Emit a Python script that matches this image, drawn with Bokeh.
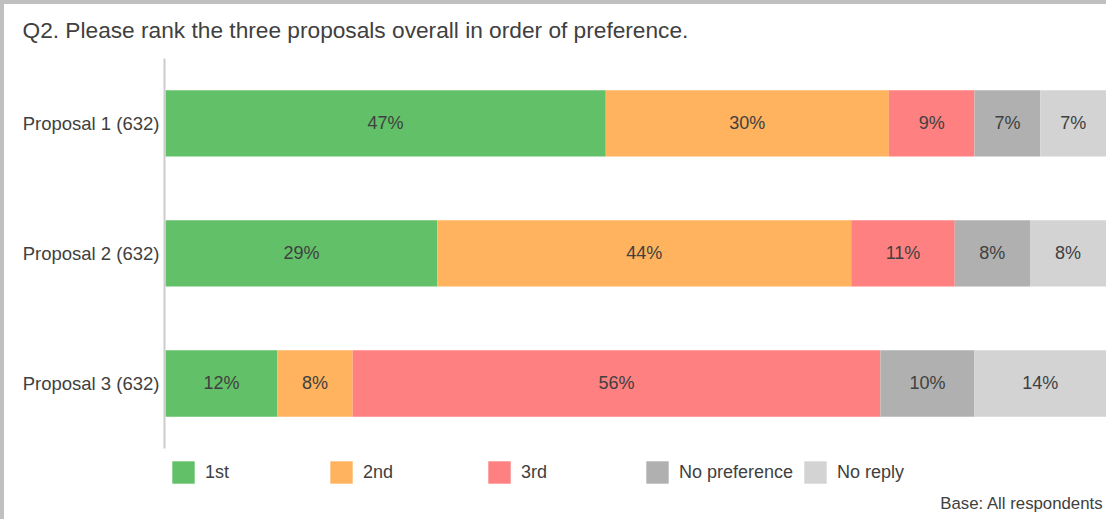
from bokeh.plotting import figure
from bokeh.models import ColumnDataSource, Range1d, Legend, LegendItem, Label
from bokeh.core.properties import value
from bokeh.embed import file_html
from bokeh.resources import INLINE

proposals = ["Proposal 1 (632)", "Proposal 2 (632)", "Proposal 3 (632)"]
series = ["1st", "2nd", "3rd", "No preference", "No reply"]
first = [46.8, 28.9, 11.9]
second = [30.1, 44.0, 8.0]
third = [9.1, 11.0, 56.1]
no_pref = [7.0, 8.0, 10.0]
no_reply = [7.0, 8.1, 14.0]
colors = ["#62c168", "#ffb35e", "#ff8080", "#b0b0b0", "#d3d3d3"]
title_text = "Q2. Please rank the three proposals overall in order of preference."
base_text = "Base: All respondents"

FONT = "Liberation Sans"
TXT = "#404040"

n = len(proposals)
# row position: first proposal on top
ypos = [n - 1 - i for i in range(n)]

data = {"y": ypos, "cat": proposals, "1st": first, "2nd": second, "3rd": third,
        "No preference": no_pref, "No reply": no_reply}
src = ColumnDataSource(data)

# whole canvas is the plot area; ranges chosen so the bars sit where the reference has them
p = figure(width=1106, height=519, output_backend="svg", toolbar_location=None,
           x_range=Range1d(-17.115, 100.46), y_range=Range1d(-1.077, 2.915),
           x_axis_location=None, y_axis_location=None,
           min_border_left=0, min_border_right=0, min_border_top=0, min_border_bottom=0)
p.styles = {"border-left": "4px solid #c0c0c0", "border-top": "4px solid #c0c0c0"}
p.outline_line_color = None
p.xgrid.visible = False
p.ygrid.visible = False
p.background_fill_color = "white"
p.border_fill_color = "white"

renderers = p.hbar_stack(series, y="y", height=0.51, source=src, color=colors, line_color=None)

# category axis: line + labels
p.segment(x0=[-0.106], y0=[-0.5], x1=[-0.106], y1=[n - 0.5], line_color="#cccccc", line_width=2)
p.text(x=[-0.64] * n, y=ypos, text=proposals, text_align="right", text_baseline="middle",
       text_font=value(FONT), text_font_size="18.5px", text_color=TXT)

# segment labels
lx, ly, lt = [], [], []
cols = [first, second, third, no_pref, no_reply]
for i in range(n):
    left = 0.0
    for c in cols:
        v = c[i]
        lx.append(left + v / 2)
        ly.append(ypos[i])
        lt.append(f"{round(v):d}%")
        left += v
lsrc = ColumnDataSource(dict(x=lx, y=ly, t=lt))
p.text(x="x", y="y", text="t", source=lsrc, text_align="center", text_baseline="middle",
       text_font=value(FONT), text_font_size="18px", text_color=TXT)

legend = Legend(items=[LegendItem(label=s, renderers=[r]) for s, r in zip(series, renderers)],
                orientation="horizontal", location=(165, 37), padding=0, margin=0,
                spacing=0, glyph_width=28, glyph_height=28, label_standoff=8, label_width=122,
                label_text_font=FONT, label_text_font_size="18px", label_text_color=TXT,
                border_line_color=None, background_fill_alpha=0)
p.add_layout(legend, "center")

p.add_layout(Label(x=18, y=494, x_units="screen", y_units="screen", text=title_text,
                   text_font=FONT, text_font_size="22.7px", text_color=TXT,
                   text_baseline="alphabetic", text_align="left"))
p.add_layout(Label(x=1099, y=20, x_units="screen", y_units="screen", text=base_text,
                   text_font=FONT, text_font_size="16.8px", text_color=TXT,
                   text_baseline="alphabetic", text_align="right"))

open("out.html", "w").write(file_html(p, INLINE))
